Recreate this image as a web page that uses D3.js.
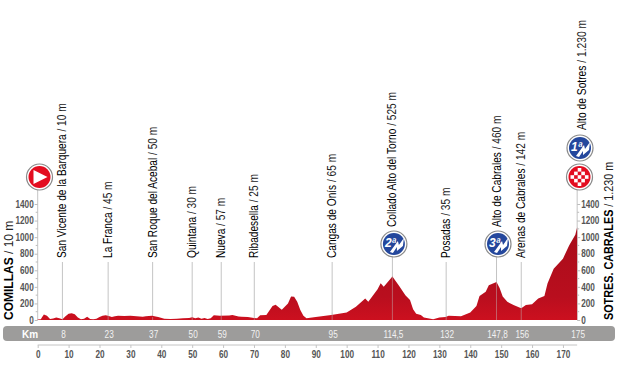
<!DOCTYPE html>
<html>
<head>
<meta charset="utf-8">
<script src="https://cdn.jsdelivr.net/npm/d3@7"></script>
<style>
  html, body { margin: 0; padding: 0; background: #fff; }
  svg { display: block; }
  text { font-family: "Liberation Sans", sans-serif; }
</style>
</head>
<body>
<svg id="chart" width="620" height="371"></svg>
<script>
// profile
const profileKm = [0,1,1.5,2,3,4,5,6,7,8,9,10,11,12,13,14,15,16,17,18,19,20,21,22,23,24,25,26,28,30,32,34,35,37,39,41,43,45,47,49,50,51,52,53,54,55,56,57,59,62,63,65,66,68,70,71,72,74,76,77,79,81,82,83,84,85,86,87,90,95,100,103,106,107,110,111,112,114.8,117,119,120.5,121.5,122.5,124,125,128,130,132,133,137,140,142,143,145,146,148.5,149.5,150.5,152,154,156.5,158,160,162,164,165,167,170,172,174,174.6];
const profileEle = [5,10,40,65,50,12,18,30,20,10,45,75,82,68,30,10,15,40,12,8,15,35,50,58,48,35,45,50,48,52,45,38,45,50,35,15,12,15,22,25,32,22,30,15,25,12,20,58,52,55,60,42,40,35,25,22,58,60,170,185,125,200,285,280,220,120,50,22,35,60,90,160,260,220,370,445,400,525,410,300,240,130,75,60,30,10,30,35,50,45,90,170,290,340,420,460,385,285,220,180,142,180,190,260,290,440,620,740,900,1030,1120];

const yTicks = [0,200,400,600,800,1000,1200,1400];
const yMinor = [100,300,500,700,900,1100,1300];
const xTicks = [0,10,20,30,40,50,60,70,80,90,100,110,120,130,140,150,160,170];

// passes along the route
const passNames = ["San Vicente de la Barquera","La Franca","San Roque del Acebal","Quintana","Nueva","Ribadesella","Cangas de Onís","Collado Alto del Torno","Posadas","Alto de Cabrales","Arenas de Cabrales"];
const passHeights = ["10 m","45 m","50 m","30 m","57 m","25 m","65 m","525 m","35 m","460 m","142 m"];
const passKmLabels = ["8","23","37","50","59","70","95","114,5","132","147,8","156"];
const passKmAt = [8,22.8,37.2,50,59.4,70.1,95.3,114.8,132.2,148.5,156.5];
const passCat = [null,null,null,null,null,null,null,"2ª",null,"3ª",null];

const svg = d3.select("#chart");

const x = d3.scaleLinear().domain([0,175]).range([37.7,578.4]);
const y = d3.scaleLinear().domain([0,1400]).range([320,204]);

// no narrow face installed, squeeze the glyphs instead
function narrow(sel, k) {
    sel.each(function() {
        d3.select(this)
            .attr("textLength",this.getComputedTextLength() * k)
            .attr("lengthAdjust","spacingAndGlyphs");
    });
}

const defs = svg.append("defs");
const grad = defs.append("linearGradient").attr("id","fillRed")
    .attr("gradientUnits","userSpaceOnUse")
    .attr("x1",0).attr("x2",0).attr("y1",y(1120)).attr("y2",y(0));
grad.append("stop").attr("offset","0").attr("stop-color","#a80d1a");
grad.append("stop").attr("offset","0.75").attr("stop-color","#b90e1e");
grad.append("stop").attr("offset","1").attr("stop-color","#cc101f");

// grey km strip
svg.append("rect")
    .attr("x",3).attr("y",326).attr("width",612).attr("height",15).attr("rx",4)
    .attr("fill","#9d9c9b");
svg.append("text")
    .attr("x",30).attr("y",337.5).attr("text-anchor","middle")
    .attr("font-size",10).attr("font-weight","bold").attr("fill","#fff")
    .text("Km");

// vertical guide lines
const guide = "#c4c4c4";
svg.append("line").attr("x1",x(0)).attr("x2",x(0)).attr("y1",188).attr("y2",y(0)).attr("stroke",guide);
svg.append("line").attr("x1",x(174.6)).attr("x2",x(174.6)).attr("y1",188).attr("y2",y(0)).attr("stroke",guide);

svg.append("g").selectAll("line")
    .data(passKmAt)
    .join("line")
    .attr("x1",d => x(d)).attr("x2",d => x(d))
    .attr("y1",(d,i) => passCat[i] ? 250 : 262)
    .attr("y2",y(0))
    .attr("stroke",guide);

// profile
const area = d3.area()
    .x((d,i) => x(profileKm[i]))
    .y0(y(0))
    .y1(d => y(d));
svg.append("path")
    .attr("d",area(profileEle))
    .attr("fill","url(#fillRed)");
svg.append("g").selectAll("line")
    .data(passKmAt)
    .join("line")
    .attr("x1",d => x(d)).attr("x2",d => x(d))
    .attr("y1",d => y(profileEle[d3.bisectLeft(profileKm,d)]))
    .attr("y2",y(0))
    .attr("stroke","#c4c4c4")
    .attr("stroke-opacity",0.45);

// elevation axes, both sides
const leftAxis = svg.append("g").attr("transform",`translate(${x(0)},0)`)
    .call(d3.axisLeft(y).tickValues(yTicks).tickFormat(d3.format("d")).tickSize(3).tickPadding(1))
    .call(g => g.select(".domain").remove());
const rightAxis = svg.append("g").attr("transform",`translate(${x(174.6)},0)`)
    .call(d3.axisRight(y).tickValues(yTicks).tickFormat(d3.format("d")).tickSize(3).tickPadding(1))
    .call(g => g.select(".domain").remove());
[leftAxis,rightAxis].forEach(g => {
    g.selectAll("line").attr("stroke","#bdbdbd");
    g.selectAll("text").attr("font-size",10).attr("font-weight","bold").attr("fill","#555")
        .style("font-family",'"Liberation Sans"')
        .call(narrow,0.82);
});
svg.append("g").selectAll("line")
    .data(yMinor.flatMap(d => [[x(0)-2,d],[x(174.6)+2,d]]))
    .join("line")
    .attr("x1",d => d[0]).attr("x2",d => d[0] < 100 ? x(0) : x(174.6))
    .attr("y1",d => y(d[1])).attr("y2",d => y(d[1]))
    .attr("stroke","#bdbdbd");

// km axis
const bottomAxis = svg.append("g").attr("transform","translate(0,345)")
    .call(d3.axisBottom(x).tickValues(xTicks).tickSize(3).tickPadding(3).tickSizeOuter(0));
bottomAxis.select(".domain").attr("stroke","#c4c4c4").attr("d",`M${x(0)},0H${x(174.6)}`);
bottomAxis.selectAll("line").attr("stroke","#c4c4c4");
bottomAxis.selectAll("text").attr("font-size",10).attr("font-weight","bold").attr("fill","#555")
    .style("font-family",'"Liberation Sans"')
    .call(narrow,0.82);

// km labels in the strip
svg.append("g").selectAll("text")
    .data(passKmLabels.concat(["175"]))
    .join("text")
    .attr("x",(d,i) => x(i < passKmAt.length ? passKmAt[i] : 174.6) + 1)
    .attr("y",337.5)
    .attr("text-anchor","middle")
    .attr("font-size",10)
    .attr("fill","#f2f2f2")
    .text(d => d)
    .call(narrow,0.82);

// rotated labels
function vlabel(px, bottom, name, height, size, weight, squeeze) {
    const t = svg.append("text")
        .attr("transform",`translate(${px},${bottom}) rotate(-90) scale(${squeeze},1)`)
        .attr("font-size",size)
        .attr("fill","#000");
    t.append("tspan").attr("font-weight",weight || "normal").text(name);
    t.append("tspan").attr("fill","#222").text(" / " + height);
}
passNames.forEach((name,i) => {
    vlabel(x(passKmAt[i]) + 4, passCat[i] ? 227 : 258, name, passHeights[i], 13, "normal", 0.78);
});
vlabel(586, 130, "Alto de Sotres", "1.230 m", 13, "normal", 0.79);
vlabel(13, 320, "COMILLAS", "10 m", 13.5, "bold", 0.89);
vlabel(613, 320, "SOTRES. CABRALES", "1.230 m", 13.5, "bold", 0.8);

// round badges
function badge(cx, cy) {
    const g = svg.append("g").attr("transform",`translate(${cx},${cy})`);
    g.append("circle").attr("r",13).attr("fill","#fff").attr("stroke","#8a8a8a").attr("stroke-width",1.2);
    return g;
}
const start = badge(39.5,177);
start.append("circle").attr("r",11).attr("fill","#e30d20");
start.append("path").attr("d","M-6,-7L8,0L-6,7Z").attr("fill","#fff");

function climb(cx, cy, label) {
    const g = badge(cx,cy);
    g.append("circle").attr("r",11).attr("fill","#24479c");
    g.append("path").attr("d","M-4,8L4,-3L5,1L10,-6L9,2L3,7L3,3L-1,9Z").attr("fill","#fff");
    g.append("text").attr("x",-9).attr("y",3).attr("font-size",12).attr("font-weight","bold")
        .attr("font-style","italic").attr("fill","#fff").text(label);
}
passCat.forEach((c,i) => { if (c) climb(x(passKmAt[i]) + 1.5,244,c); });
climb(580,148,"1ª");

const finish = badge(579.5,177);
finish.append("circle").attr("r",11).attr("fill","#e30d20");
const cell = 3.6;
const rows = d3.range(-2,3);
finish.append("g").selectAll("rect")
    .data(rows.flatMap(r => rows.map(c => [r,c])).filter(d => (d[0]+d[1]+8) % 2 === 0 && Math.abs(d[0])+Math.abs(d[1]) < 4))
    .join("rect")
    .attr("x",d => d[1]*cell - cell/2).attr("y",d => d[0]*cell - cell/2)
    .attr("width",cell).attr("height",cell)
    .attr("fill","#fff");
</script>
</body>
</html>
